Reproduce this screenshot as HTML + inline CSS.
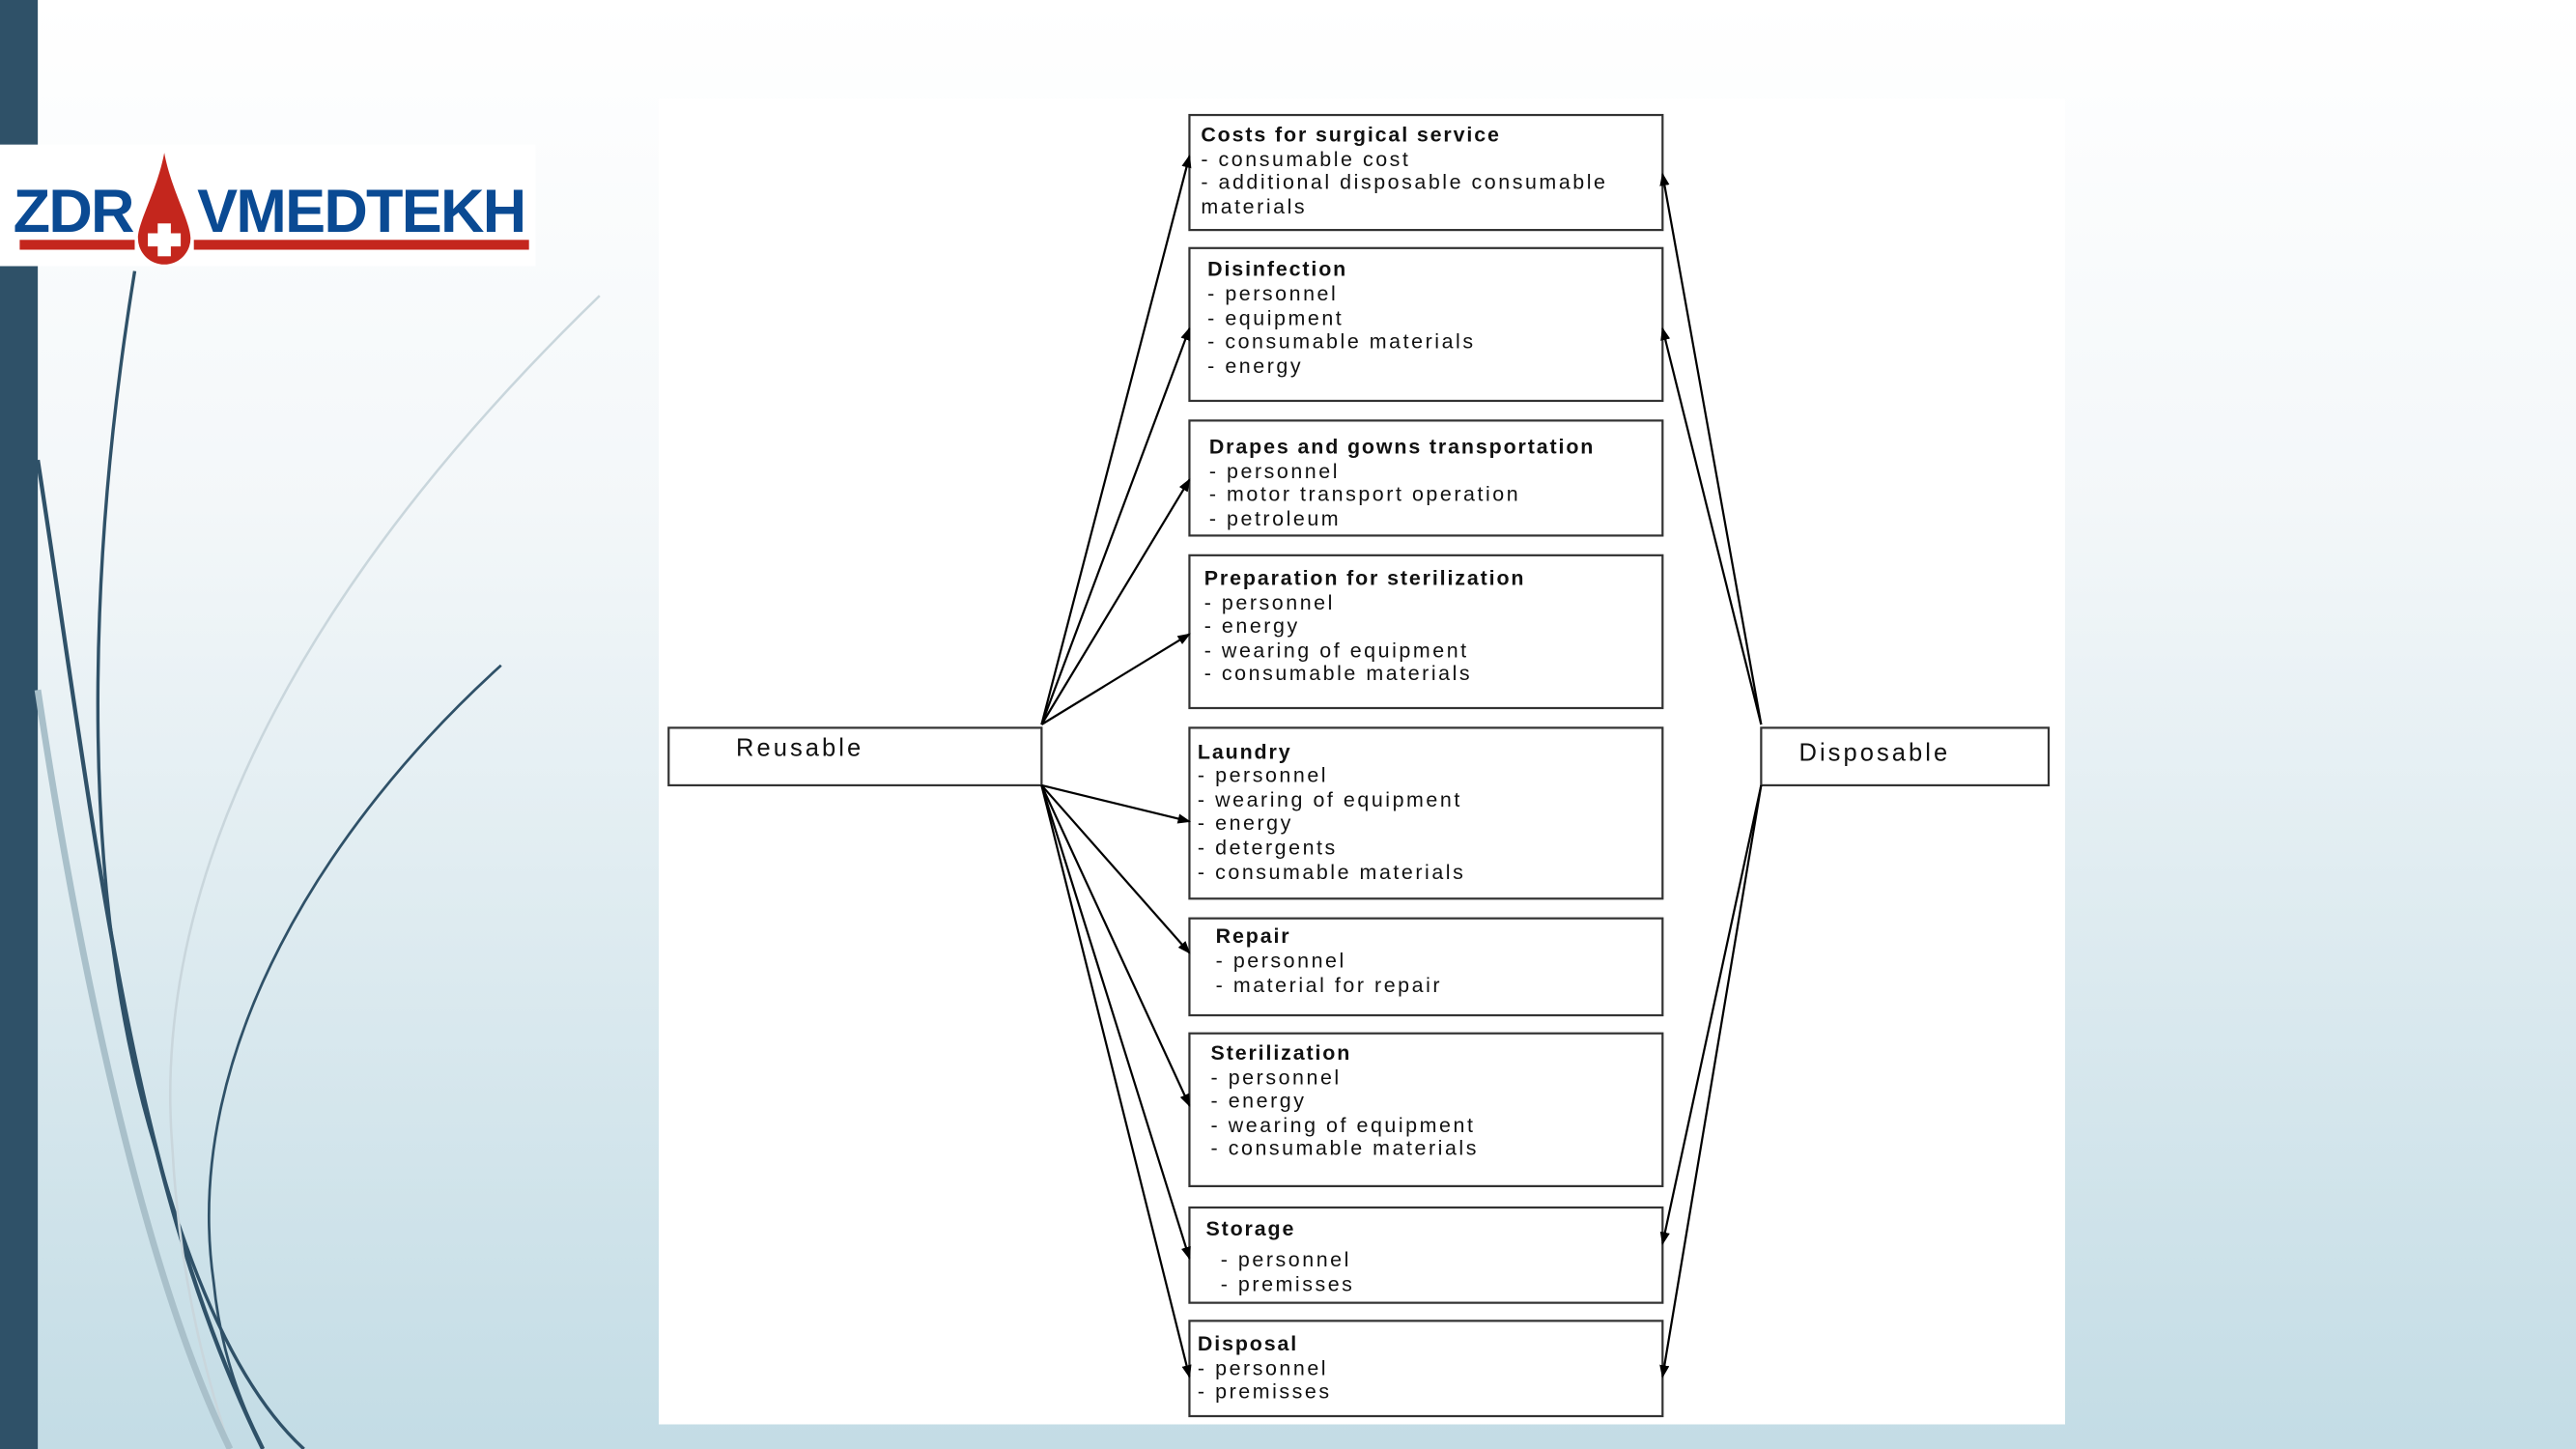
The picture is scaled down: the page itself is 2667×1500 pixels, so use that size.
<!DOCTYPE html>
<html><head><meta charset="utf-8"><style>
html,body{margin:0;padding:0;width:2667px;height:1500px;overflow:hidden}
svg{display:block}
text{font-family:"Liberation Sans",sans-serif;font-size:12.6px;fill:#111;letter-spacing:1.5px}
.b{font-weight:bold;letter-spacing:1.1px}
</style></head><body>
<svg width="2667" height="1500" viewBox="0 0 1568 882" preserveAspectRatio="none" xmlns="http://www.w3.org/2000/svg">
<defs>
<linearGradient id="bg" x1="0" y1="0" x2="0" y2="1">
<stop offset="0" stop-color="#ffffff"/><stop offset="0.35" stop-color="#f3f7f9"/><stop offset="1" stop-color="#c3dce5"/>
</linearGradient>
<marker id="ar" markerWidth="8" markerHeight="8" refX="7" refY="4" orient="auto" markerUnits="userSpaceOnUse"><path d="M0,1 L8,4 L0,7 z" fill="#000"/></marker>
</defs>
<rect width="1568" height="882" fill="url(#bg)"/>
<rect x="0" y="0" width="23" height="882" fill="#2f5168"/>
<g fill="none">
<path d="M82,165 C60,300 40,520 95,700 C120,790 150,850 185,882" stroke="#2f5168" stroke-width="2"/>
<path d="M23,280 C60,520 80,720 160,882" stroke="#2f5168" stroke-width="2.5"/>
<path d="M305,405 C200,500 110,640 130,780 C135,830 150,860 160,882" stroke="#2f5168" stroke-width="1.6"/>
<path d="M365,180 C200,340 90,520 105,700 C110,790 130,850 140,882" stroke="#c9d6dc" stroke-width="1.5"/>
<path d="M23,420 C50,600 90,780 140,882" stroke="#a9c0ca" stroke-width="4"/>
</g>
<rect x="0" y="88" width="326" height="74" fill="#fff"/>
<text x="8" y="141" style="font-size:37px;font-weight:bold;fill:#0a4a93;letter-spacing:-1px">ZDR</text>
<text x="120" y="141" style="font-size:37px;font-weight:bold;fill:#0a4a93;letter-spacing:-1px">VMEDTEKH</text>
<rect x="12" y="146" width="70" height="6" fill="#c4261d"/><rect x="118" y="146" width="204" height="6" fill="#c4261d"/>
<path d="M100,93 C96,115 84,135 84,145 A16,16 0 0 0 116,145 C116,135 104,115 100,93 z" fill="#c4261d"/>
<rect x="96" y="136" width="8" height="20" fill="#fff"/><rect x="90" y="142" width="20" height="8" fill="#fff"/>
<rect x="401" y="60" width="856" height="807" fill="#fff"/>
<g fill="#fff" stroke="#333" stroke-width="1.3">
<rect x="724" y="70" width="288" height="70"/>
<rect x="724" y="151" width="288" height="93"/>
<rect x="724" y="256" width="288" height="70"/>
<rect x="724" y="338" width="288" height="93"/>
<rect x="724" y="443" width="288" height="104"/>
<rect x="724" y="559" width="288" height="59"/>
<rect x="724" y="629" width="288" height="93"/>
<rect x="724" y="735" width="288" height="58"/>
<rect x="724" y="804" width="288" height="58"/>
<rect x="407" y="443" width="227" height="35"/>
<rect x="1072" y="443" width="175" height="35"/>
</g>
<g stroke="#000" stroke-width="1.3" fill="none" marker-end="url(#ar)">
<line x1="634" y1="441" x2="724" y2="95"/>
<line x1="634" y1="441" x2="724" y2="200"/>
<line x1="634" y1="441" x2="724" y2="292"/>
<line x1="634" y1="441" x2="724" y2="386"/>
<line x1="634" y1="478" x2="724" y2="500"/>
<line x1="634" y1="478" x2="724" y2="580"/>
<line x1="634" y1="478" x2="724" y2="673"/>
<line x1="634" y1="478" x2="724" y2="766"/>
<line x1="634" y1="478" x2="724" y2="838"/>
<line x1="1072" y1="441" x2="1012" y2="106"/>
<line x1="1072" y1="441" x2="1012" y2="200"/>
<line x1="1072" y1="478" x2="1012" y2="757"/>
<line x1="1072" y1="478" x2="1012" y2="838"/>
</g>
<text x="448" y="460" style="font-size:15px;letter-spacing:1.8px">Reusable</text>
<text x="1095" y="463" style="font-size:15px;letter-spacing:1.8px">Disposable</text>
<text x="731" y="86" class="b">Costs for surgical service</text>
<text x="731" y="101">- consumable cost</text>
<text x="731" y="115">- additional disposable consumable</text>
<text x="731" y="130">materials</text>
<text x="735" y="168" class="b">Disinfection</text>
<text x="735" y="183">- personnel</text><text x="735" y="198">- equipment</text><text x="735" y="212">- consumable materials</text><text x="735" y="227">- energy</text>
<text x="736" y="276" class="b">Drapes and gowns transportation</text>
<text x="736" y="291">- personnel</text><text x="736" y="305">- motor transport operation</text><text x="736" y="320">- petroleum</text>
<text x="733" y="356" class="b">Preparation for sterilization</text>
<text x="733" y="371">- personnel</text><text x="733" y="385">- energy</text><text x="733" y="400">- wearing of equipment</text><text x="733" y="414">- consumable materials</text>
<text x="729" y="462" class="b">Laundry</text>
<text x="729" y="476">- personnel</text><text x="729" y="491">- wearing of equipment</text><text x="729" y="505">- energy</text><text x="729" y="520">- detergents</text><text x="729" y="535">- consumable materials</text>
<text x="740" y="574" class="b">Repair</text>
<text x="740" y="589">- personnel</text><text x="740" y="604">- material for repair</text>
<text x="737" y="645" class="b">Sterilization</text>
<text x="737" y="660">- personnel</text><text x="737" y="674">- energy</text><text x="737" y="689">- wearing of equipment</text><text x="737" y="703">- consumable materials</text>
<text x="734" y="752" class="b">Storage</text>
<text x="743" y="771">- personnel</text><text x="743" y="786">- premisses</text>
<text x="729" y="822" class="b">Disposal</text>
<text x="729" y="837">- personnel</text><text x="729" y="851">- premisses</text>
</svg>
</body></html>
